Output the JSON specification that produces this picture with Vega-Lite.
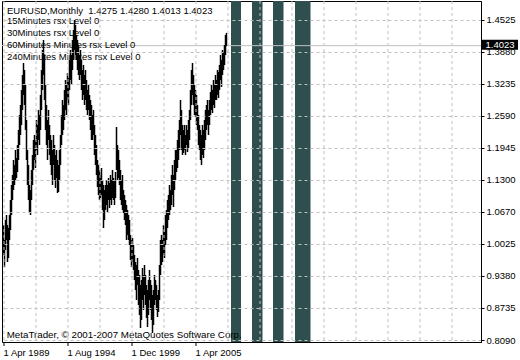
{
"$schema": "https://vega.github.io/schema/vega-lite/v6.json",
"width": 479, "height": 341,
"autosize": {"type": "none"},
"padding": {"left": 2, "top": 1, "right": 39, "bottom": 18},
"background": "white",
"config": {
  "view": {"stroke": "black", "strokeWidth": 1},
  "font": "Liberation Sans",
  "axis": {"labelFont": "Liberation Sans", "labelFontSize": 9.5, "labelColor": "black", "gridColor": "#c0c0c0", "gridDash": [3, 3], "gridWidth": 1, "tickColor": "black", "tickWidth": 1, "labelOverlap": false, "labelFlush": false, "labelBound": false}
},
"title": {
  "text": "EURUSD,Monthly \u00a01.4275 1.4280 1.4013 1.4023",
  "subtitle": ["15Minutes rsx Level 0", "30Minutes rsx Level 0", "60Minutes Minutes rsx Level 0", "240Minutes Minutes rsx Level 0"],
  "anchor": "start", "frame": "group", "orient": "top", "offset": -60, "dx": 5,
  "font": "Liberation Sans", "fontSize": 9.5, "fontWeight": "normal", "color": "black",
  "subtitleFont": "Liberation Sans", "subtitleFontSize": 9.5, "subtitleColor": "black", "subtitleLineHeight": 12, "subtitlePadding": 0
},
"datasets": {
  "columns": [
    {"indicator": "15Minutes rsx", "start": 227.5, "end": 237.5},
    {"indicator": "30Minutes rsx", "start": 248.5, "end": 259},
    {"indicator": "60Minutes rsx", "start": 269.5, "end": 280},
    {"indicator": "240Minutes rsx", "start": 291.5, "end": 307}
  ],
  "bars": [
{"bar":0,"high":1.0408,"low":0.9803},{"bar":1,"high":1.0106,"low":0.9561},{"bar":2,"high":1.0509,"low":0.9904},{"bar":3,"high":1.0609,"low":1.0106},{"bar":4,"high":1.0408,"low":0.9662},{"bar":5,"high":1.0348,"low":0.9743},{"bar":6,"high":1.0609,"low":1.0106},{"bar":7,"high":1.0912,"low":1.0307},{"bar":8,"high":1.1214,"low":1.0609},{"bar":9,"high":1.1416,"low":1.0912},
{"bar":10,"high":1.1718,"low":1.1113},{"bar":11,"high":1.1617,"low":1.1214},{"bar":12,"high":1.1920,"low":1.1315},{"bar":13,"high":1.1758,"low":1.1355},{"bar":14,"high":1.2020,"low":1.1476},{"bar":15,"high":1.2323,"low":1.1718},{"bar":16,"high":1.2625,"low":1.2020},{"bar":17,"high":1.2827,"low":1.2222},{"bar":18,"high":1.3129,"low":1.2423},{"bar":19,"high":1.3431,"low":1.2726},
{"bar":20,"high":1.3673,"low":1.3028},{"bar":21,"high":1.3532,"low":1.2827},{"bar":22,"high":1.3230,"low":1.2323},{"bar":23,"high":1.2524,"low":1.1718},{"bar":24,"high":1.1920,"low":1.1214},{"bar":25,"high":1.1617,"low":1.0912},{"bar":26,"high":1.1214,"low":1.0650},{"bar":27,"high":1.1113,"low":1.0609},{"bar":28,"high":1.1517,"low":1.0912},{"bar":29,"high":1.1819,"low":1.1214},
{"bar":30,"high":1.2121,"low":1.1517},{"bar":31,"high":1.2222,"low":1.1718},{"bar":32,"high":1.2121,"low":1.1557},{"bar":33,"high":1.2524,"low":1.1920},{"bar":34,"high":1.2423,"low":1.1819},{"bar":35,"high":1.2726,"low":1.2121},{"bar":36,"high":1.2625,"low":1.2020},{"bar":37,"high":1.3028,"low":1.2323},{"bar":38,"high":1.3532,"low":1.2726},{"bar":39,"high":1.3935,"low":1.3129},
{"bar":40,"high":1.4137,"low":1.3431},{"bar":41,"high":1.3834,"low":1.2927},{"bar":42,"high":1.3230,"low":1.2323},{"bar":43,"high":1.2827,"low":1.2020},{"bar":44,"high":1.2524,"low":1.1718},{"bar":45,"high":1.2726,"low":1.2121},{"bar":46,"high":1.2423,"low":1.1819},{"bar":47,"high":1.2222,"low":1.1617},{"bar":48,"high":1.2121,"low":1.1416},{"bar":49,"high":1.1920,"low":1.1214},
{"bar":50,"high":1.2222,"low":1.1617},{"bar":51,"high":1.2020,"low":1.1315},{"bar":52,"high":1.1819,"low":1.1154},{"bar":53,"high":1.1920,"low":1.1355},{"bar":54,"high":1.1718,"low":1.1053},{"bar":55,"high":1.1617,"low":1.1073},{"bar":56,"high":1.1920,"low":1.1315},{"bar":57,"high":1.2222,"low":1.1617},{"bar":58,"high":1.2625,"low":1.2020},{"bar":59,"high":1.2927,"low":1.2222},
{"bar":60,"high":1.2827,"low":1.2323},{"bar":61,"high":1.3129,"low":1.2524},{"bar":62,"high":1.3331,"low":1.2726},{"bar":63,"high":1.3230,"low":1.2625},{"bar":64,"high":1.3472,"low":1.2927},{"bar":65,"high":1.3371,"low":1.2827},{"bar":66,"high":1.3734,"low":1.3129},{"bar":67,"high":1.3935,"low":1.3331},{"bar":68,"high":1.3834,"low":1.3230},{"bar":69,"high":1.4137,"low":1.3532},
{"bar":70,"high":1.4338,"low":1.3734},{"bar":71,"high":1.4540,"low":1.3935},{"bar":72,"high":1.4439,"low":1.3834},{"bar":73,"high":1.4238,"low":1.3734},{"bar":74,"high":1.4137,"low":1.3532},{"bar":75,"high":1.4036,"low":1.3431},{"bar":76,"high":1.3834,"low":1.3331},{"bar":77,"high":1.3935,"low":1.3431},{"bar":78,"high":1.3734,"low":1.3129},{"bar":79,"high":1.3532,"low":1.2927},
{"bar":80,"high":1.3633,"low":1.3028},{"bar":81,"high":1.3431,"low":1.2827},{"bar":82,"high":1.3532,"low":1.2927},{"bar":83,"high":1.3331,"low":1.2726},{"bar":84,"high":1.3129,"low":1.2625},{"bar":85,"high":1.3230,"low":1.2726},{"bar":86,"high":1.3028,"low":1.2524},{"bar":87,"high":1.2927,"low":1.2323},{"bar":88,"high":1.2827,"low":1.2121},{"bar":89,"high":1.2625,"low":1.2121},
{"bar":90,"high":1.2726,"low":1.2222},{"bar":91,"high":1.2423,"low":1.1819},{"bar":92,"high":1.2222,"low":1.1617},{"bar":93,"high":1.2020,"low":1.1416},{"bar":94,"high":1.1718,"low":1.1174},{"bar":95,"high":1.1617,"low":1.1013},{"bar":96,"high":1.1517,"low":1.0912},{"bar":97,"high":1.1416,"low":1.0952},{"bar":98,"high":1.1557,"low":1.1013},{"bar":99,"high":1.1315,"low":1.0710},
{"bar":100,"high":1.1214,"low":1.0348},{"bar":101,"high":1.1113,"low":1.0509},{"bar":102,"high":1.1214,"low":1.0710},{"bar":103,"high":1.1315,"low":1.0811},{"bar":104,"high":1.1214,"low":1.0670},{"bar":105,"high":1.1355,"low":1.0912},{"bar":106,"high":1.1254,"low":1.0751},{"bar":107,"high":1.1416,"low":1.0912},{"bar":108,"high":1.1315,"low":1.0811},{"bar":109,"high":1.1517,"low":1.0952},
{"bar":110,"high":1.1355,"low":1.0912},{"bar":111,"high":1.1315,"low":1.0811},{"bar":112,"high":1.1476,"low":1.0952},{"bar":113,"high":1.2383,"low":1.1517},{"bar":114,"high":1.2020,"low":1.1315},{"bar":115,"high":1.1920,"low":1.1355},{"bar":116,"high":1.1718,"low":1.1214},{"bar":117,"high":1.1517,"low":1.0912},{"bar":118,"high":1.1315,"low":1.0811},{"bar":119,"high":1.1416,"low":1.0710},
{"bar":120,"high":1.1113,"low":1.0650},{"bar":121,"high":1.1013,"low":1.0509},{"bar":122,"high":1.0912,"low":1.0408},{"bar":123,"high":1.0811,"low":1.0106},{"bar":124,"high":1.0710,"low":1.0206},{"bar":125,"high":1.0609,"low":1.0106},{"bar":126,"high":1.0509,"low":1.0005},{"bar":127,"high":1.0206,"low":0.9703},{"bar":128,"high":1.0106,"low":0.9561},{"bar":129,"high":1.0146,"low":0.9662},
{"bar":130,"high":1.0005,"low":0.9501},{"bar":131,"high":0.9803,"low":0.9299},{"bar":132,"high":0.9662,"low":0.9098},{"bar":133,"high":0.9602,"low":0.8896},{"bar":134,"high":0.9743,"low":0.9199},{"bar":135,"high":0.9501,"low":0.8795},{"bar":136,"high":0.9400,"low":0.8594},{"bar":137,"high":0.9199,"low":0.8332},{"bar":138,"high":0.9299,"low":0.8493},{"bar":139,"high":0.9541,"low":0.8896},
{"bar":140,"high":0.9400,"low":0.8695},{"bar":141,"high":0.9602,"low":0.8997},{"bar":142,"high":0.9400,"low":0.8795},{"bar":143,"high":0.9199,"low":0.8534},{"bar":144,"high":0.9098,"low":0.8352},{"bar":145,"high":0.9299,"low":0.8594},{"bar":146,"high":0.9501,"low":0.8896},{"bar":147,"high":0.9299,"low":0.8695},{"bar":148,"high":0.9199,"low":0.8493},{"bar":149,"high":0.8997,"low":0.8231},
{"bar":150,"high":0.9098,"low":0.8392},{"bar":151,"high":0.9400,"low":0.8795},{"bar":152,"high":0.9299,"low":0.8896},{"bar":153,"high":0.9199,"low":0.8695},{"bar":154,"high":0.8997,"low":0.8554},{"bar":155,"high":0.9098,"low":0.8654},{"bar":156,"high":0.9602,"low":0.8896},{"bar":157,"high":1.0106,"low":0.9400},{"bar":158,"high":1.0206,"low":0.9602},{"bar":159,"high":1.0106,"low":0.9662},
{"bar":160,"high":1.0408,"low":0.9803},{"bar":161,"high":1.0267,"low":0.9743},{"bar":162,"high":1.0609,"low":1.0005},{"bar":163,"high":1.0710,"low":1.0106},{"bar":164,"high":1.0912,"low":1.0348},{"bar":165,"high":1.1013,"low":1.0509},{"bar":166,"high":1.1214,"low":1.0609},{"bar":167,"high":1.1113,"low":1.0710},{"bar":168,"high":1.1416,"low":1.0811},{"bar":169,"high":1.1617,"low":1.1013},
{"bar":170,"high":1.1416,"low":1.0771},{"bar":171,"high":1.1718,"low":1.1113},{"bar":172,"high":1.1920,"low":1.1315},{"bar":173,"high":1.1920,"low":1.1476},{"bar":174,"high":1.2121,"low":1.1557},{"bar":175,"high":1.2323,"low":1.1718},{"bar":176,"high":1.2524,"low":1.1920},{"bar":177,"high":1.2927,"low":1.2222},{"bar":178,"high":1.2726,"low":1.1920},{"bar":179,"high":1.2423,"low":1.1819},
{"bar":180,"high":1.2323,"low":1.1859},{"bar":181,"high":1.2423,"low":1.1920},{"bar":182,"high":1.2222,"low":1.1819},{"bar":183,"high":1.2423,"low":1.2020},{"bar":184,"high":1.2323,"low":1.1879},{"bar":185,"high":1.2524,"low":1.1960},{"bar":186,"high":1.2726,"low":1.2121},{"bar":187,"high":1.3129,"low":1.2524},{"bar":188,"high":1.3532,"low":1.2827},{"bar":189,"high":1.3673,"low":1.3028},
{"bar":190,"high":1.3431,"low":1.2827},{"bar":191,"high":1.3230,"low":1.2625},{"bar":192,"high":1.3129,"low":1.2585},{"bar":193,"high":1.3028,"low":1.2423},{"bar":194,"high":1.2827,"low":1.2323},{"bar":195,"high":1.2625,"low":1.2020},{"bar":196,"high":1.2423,"low":1.1920},{"bar":197,"high":1.2323,"low":1.1718},{"bar":198,"high":1.2222,"low":1.1617},{"bar":199,"high":1.2423,"low":1.1819},
{"bar":200,"high":1.2323,"low":1.1758},{"bar":201,"high":1.2524,"low":1.1920},{"bar":202,"high":1.2726,"low":1.2121},{"bar":203,"high":1.2827,"low":1.2323},{"bar":204,"high":1.2927,"low":1.2423},{"bar":205,"high":1.2726,"low":1.2222},{"bar":206,"high":1.2927,"low":1.2423},{"bar":207,"high":1.3089,"low":1.2625},{"bar":208,"high":1.3230,"low":1.2726},{"bar":209,"high":1.3129,"low":1.2665},
{"bar":210,"high":1.3331,"low":1.2827},{"bar":211,"high":1.3230,"low":1.2766},{"bar":212,"high":1.3431,"low":1.2927},{"bar":213,"high":1.3331,"low":1.2927},{"bar":214,"high":1.3532,"low":1.3028},{"bar":215,"high":1.3492,"low":1.2968},{"bar":216,"high":1.3633,"low":1.3129},{"bar":217,"high":1.3834,"low":1.3331},{"bar":218,"high":1.3734,"low":1.3190},{"bar":219,"high":1.3935,"low":1.3431},
{"bar":220,"high":1.3895,"low":1.3532},{"bar":221,"high":1.4036,"low":1.3633},{"bar":222,"high":1.4238,"low":1.3834},{"bar":223,"high":1.4280,"low":1.4013}
  ]
},
"layer": [
  {
    "data": {"name": "columns"},
    "mark": {"type": "rect", "color": "#2f4f4f"},
    "encoding": {
      "x": {
        "field": "start", "type": "quantitative", "title": null,
        "scale": {"domain": [-1.5, 477.5], "nice": false, "zero": false},
        "axis": {
          "values": [0, 32, 64, 96, 128, 160, 192, 224, 256, 288, 320, 352, 384, 416, 448],
          "tickCount": 40,
          "labelExpr": "datum.value == 0 ? '1 Apr 1989' : datum.value == 64 ? '1 Aug 1994' : datum.value == 128 ? '1 Dec 1999' : datum.value == 192 ? '1 Apr 2005' : ''",
          "grid": true, "domain": false, "translate": 0, "zindex": 1,
          "ticks": true, "tickSize": 4,
          "tickOpacity": {"condition": {"test": "datum.value == 0 || datum.value == 64 || datum.value == 128 || datum.value == 192", "value": 1}, "value": 0},
          "labelAlign": "left", "labelBaseline": "top", "labelPadding": 2,
          "labelOverlap": false, "labelFlush": false, "labelBound": false
        }
      },
      "x2": {"field": "end"}
    }
  },
  {
    "data": {"values": [{"price": 1.4023}]},
    "mark": {"type": "rule", "color": "#c0c0c0", "strokeWidth": 1},
    "encoding": {
      "y": {
        "field": "price", "type": "quantitative", "title": null,
        "scale": {"domain": [0.80497, 1.49228], "nice": false, "zero": false},
        "axis": {
          "orient": "right",
          "values": [0.809, 0.8735, 0.938, 1.0025, 1.067, 1.1315, 1.196, 1.2605, 1.325, 1.3895, 1.454],
          "tickCount": 40,
          "labelExpr": "datum.value > 1.1 ? format(datum.value - 0.0015, '.4f') : format(datum.value, '.4f')",
          "grid": true, "domain": true, "domainColor": "black", "zindex": 1,
          "tickSize": 3, "labelPadding": 2, "labelAlign": "left", "labelBaseline": "middle",
          "labelOverlap": false, "labelFlush": false, "labelBound": false
        }
      }
    }
  },
  {
    "data": {"name": "bars"},
    "mark": {"type": "rule", "color": "black", "strokeWidth": 1.5},
    "encoding": {
      "x": {"field": "bar", "type": "quantitative", "title": null},
      "y": {"field": "low", "type": "quantitative", "title": null},
      "y2": {"field": "high"}
    }
  },
  {
    "data": {"values": [{"price": 1.4023, "label": "1.4023"}]},
    "layer": [
      {
        "mark": {"type": "rect", "color": "black", "yOffset": -6, "y2Offset": 4},
        "encoding": {
          "x": {"datum": 478.5}, "x2": {"datum": 514.5},
          "y": {"field": "price", "type": "quantitative", "title": null}, "y2": {"field": "price"}
        }
      },
      {
        "mark": {"type": "text", "color": "white", "fontSize": 9.5, "font": "Liberation Sans", "align": "center", "baseline": "middle", "dy": -1},
        "encoding": {
          "x": {"datum": 496.5},
          "y": {"field": "price", "type": "quantitative", "title": null},
          "text": {"field": "label"}
        }
      }
    ]
  },
  {
    "data": {"values": [{"note": "MetaTrader, © 2001-2007 MetaQuotes Software Corp."}]},
    "mark": {"type": "text", "color": "black", "fontSize": 9.75, "font": "Liberation Sans", "align": "left", "baseline": "middle"},
    "encoding": {
      "x": {"datum": 3.2},
      "y": {"datum": 0.8191},
      "text": {"field": "note"}
    }
  }
]
}
